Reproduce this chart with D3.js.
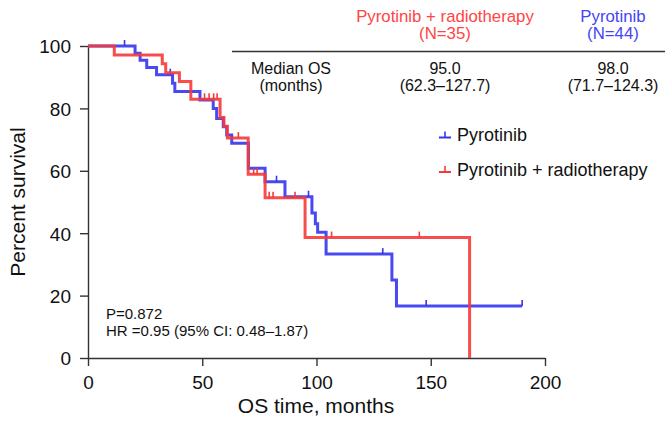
<!DOCTYPE html>
<html>
<head>
<meta charset="utf-8">
<script src="https://cdn.jsdelivr.net/npm/d3@7"></script>
<style>
  html, body { margin: 0; padding: 0; background: #fff; }
  svg { display: block; font-family: "Liberation Sans", Arial, Helvetica, sans-serif; }
</style>
</head>
<body>
<svg id="chart" width="665" height="425"></svg>
<script>
// ---- Data ----
const seriesNames = ["Pyrotinib", "Pyrotinib + radiotherapy"];
const seriesN = [44, 35];
// Kaplan–Meier steps: [time (months), survival (%) from that time on]
const pyrotinibSteps = [
  [0, 100], [20.6, 97.7], [22.8, 95.4], [25.7, 93.1], [30, 90.8], [37, 88.1], [38, 85.4],
  [49, 82.7], [54.8, 80.0], [56.3, 76.8], [59.2, 74.1], [60.7, 71.5], [62.9, 68.8],
  [70.2, 60.8], [77.5, 56.5], [86.2, 51.7], [98, 46.5], [99.5, 43.0], [100.5, 40.3],
  [104.2, 33.3], [133, 25.0], [135, 16.7], [190, 16.7]
];
const radioSteps = [
  [0, 100], [11.5, 97.1], [32.5, 94.3], [34, 91.4], [40, 88.6], [45, 82.9],
  [57.8, 77.1], [59.5, 74.3], [61, 70.5], [70.1, 58.9], [77.5, 51.4], [95, 38.6], [167, 0]
];
// Censored observations (months)
const pyrotinibCensor = [16, 36, 82.5, 96.5, 129, 148, 190];
const radioCensor = [51, 53, 55, 56.5, 65.8, 72.5, 74, 79.3, 81, 90.6, 106.6, 145];
// Axis ticks
const xTicks = [0, 50, 100, 150, 200];
const yTicks = [0, 20, 40, 60, 80, 100];
// Table text
const tableHeaders = ["Pyrotinib + radiotherapy", "Pyrotinib"];
const tableN = ["(N=35)", "(N=44)"];
const rowLabel = ["Median OS", "(months)"];
const medianOS = ["95.0", "98.0"];
const medianCI = ["(62.3–127.7)", "(71.7–124.3)"];
const statsText = ["P=0.872", "HR =0.95 (95% CI: 0.48–1.87)"];

// ---- Drawing ----
const blue = "#3535ee";
const red = "#f53a3a";
const svg = d3.select("#chart");

const x = d3.scaleLinear().domain([0, 200]).range([88, 545]);
const y = d3.scaleLinear().domain([0, 100]).range([358, 46]);

// Axes
const xAxis = svg.append("g").attr("transform", `translate(0,${y(0)})`)
  .call(d3.axisBottom(x).tickValues(xTicks).tickSize(8).tickPadding(6).tickSizeOuter(0));
const yAxis = svg.append("g").attr("transform", `translate(${x(0)},0)`)
  .call(d3.axisLeft(y).tickValues(yTicks).tickSize(8).tickPadding(9).tickSizeOuter(0));
[xAxis, yAxis].forEach(g => {
  g.selectAll("path.domain").attr("stroke", "#333").attr("stroke-width", 1.4);
  g.selectAll(".tick line").attr("stroke", "#333").attr("stroke-width", 1.4);
  g.selectAll(".tick text").attr("fill", "#111").style("font-size", "19px")
    .style("font-family", "'Liberation Sans', Arial, sans-serif");
});
xAxis.selectAll(".tick text").attr("dy", "0.9em");
yAxis.selectAll(".tick text").attr("dy", "0.36em");

// Axis titles
svg.append("text").attr("x", 316).attr("y", 413).attr("text-anchor", "middle")
  .attr("fill", "#111").style("font-size", "21px").text("OS time, months");
svg.append("text").attr("transform", `translate(25,${(y(0) + y(100)) / 2}) rotate(-90)`)
  .attr("text-anchor", "middle").attr("fill", "#111").style("font-size", "21px")
  .text("Percent survival");

// KM curves
const line = d3.line().x(d => x(d[0])).y(d => y(d[1])).curve(d3.curveStepAfter);
function levelAt(steps, t) {
  let lv = steps[0][1];
  for (const s of steps) { if (s[0] <= t) lv = s[1]; }
  return lv;
}
function drawSeries(steps, censor, color) {
  svg.append("path").datum(steps).attr("d", line)
    .attr("fill", "none").attr("stroke", color).attr("stroke-width", 3)
    .attr("stroke-opacity", 0.9).attr("stroke-linejoin", "miter");
  svg.append("g").selectAll("line").data(censor).join("line")
    .attr("x1", d => x(d)).attr("x2", d => x(d))
    .attr("y1", d => y(levelAt(steps, d))).attr("y2", d => y(levelAt(steps, d)) - 6)
    .attr("stroke", color).attr("stroke-width", 1.6);
}
drawSeries(pyrotinibSteps, pyrotinibCensor, blue);
drawSeries(radioSteps, radioCensor, red);

// Legend
const legendColors = [blue, red];
const legend = svg.append("g");
seriesNames.forEach((name, i) => {
  const ly = 137.5 + i * 34.5;
  legend.append("line").attr("x1", 439).attr("x2", 451).attr("y1", ly).attr("y2", ly)
    .attr("stroke", legendColors[i]).attr("stroke-width", 2);
  legend.append("line").attr("x1", 445).attr("x2", 445).attr("y1", ly).attr("y2", ly - 6)
    .attr("stroke", legendColors[i]).attr("stroke-width", 1.6);
  legend.append("text").attr("x", 457).attr("y", ly + 3.5).attr("fill", "#111")
    .style("font-size", "18px").text(name);
});

// Table
const colX = [445, 613];
const headColors = ["#ff4545", "#4545f5"];
tableHeaders.forEach((h, i) => {
  svg.append("text").attr("x", colX[i]).attr("y", 21.5).attr("text-anchor", "middle")
    .attr("fill", headColors[i]).style("font-size", "16.8px").text(h);
  svg.append("text").attr("x", colX[i]).attr("y", 39).attr("text-anchor", "middle")
    .attr("fill", headColors[i]).style("font-size", "16.8px").text(tableN[i]);
  svg.append("text").attr("x", colX[i]).attr("y", 73.5).attr("text-anchor", "middle")
    .attr("fill", "#111").style("font-size", "16px").text(medianOS[i]);
  svg.append("text").attr("x", colX[i]).attr("y", 90.5).attr("text-anchor", "middle")
    .attr("fill", "#111").style("font-size", "16px").text(medianCI[i]);
});
rowLabel.forEach((t, i) => {
  svg.append("text").attr("x", 291).attr("y", 73.5 + i * 17).attr("text-anchor", "middle")
    .attr("fill", "#111").style("font-size", "16px").text(t);
});
svg.append("line").attr("x1", 232).attr("x2", 665).attr("y1", 51.5).attr("y2", 51.5)
  .attr("stroke", "#333").attr("stroke-width", 1.5);

// Stats text
statsText.forEach((t, i) => {
  svg.append("text").attr("x", 106).attr("y", 319 + i * 17).attr("fill", "#111")
    .style("font-size", "15px").text(t);
});
</script>
</body>
</html>
